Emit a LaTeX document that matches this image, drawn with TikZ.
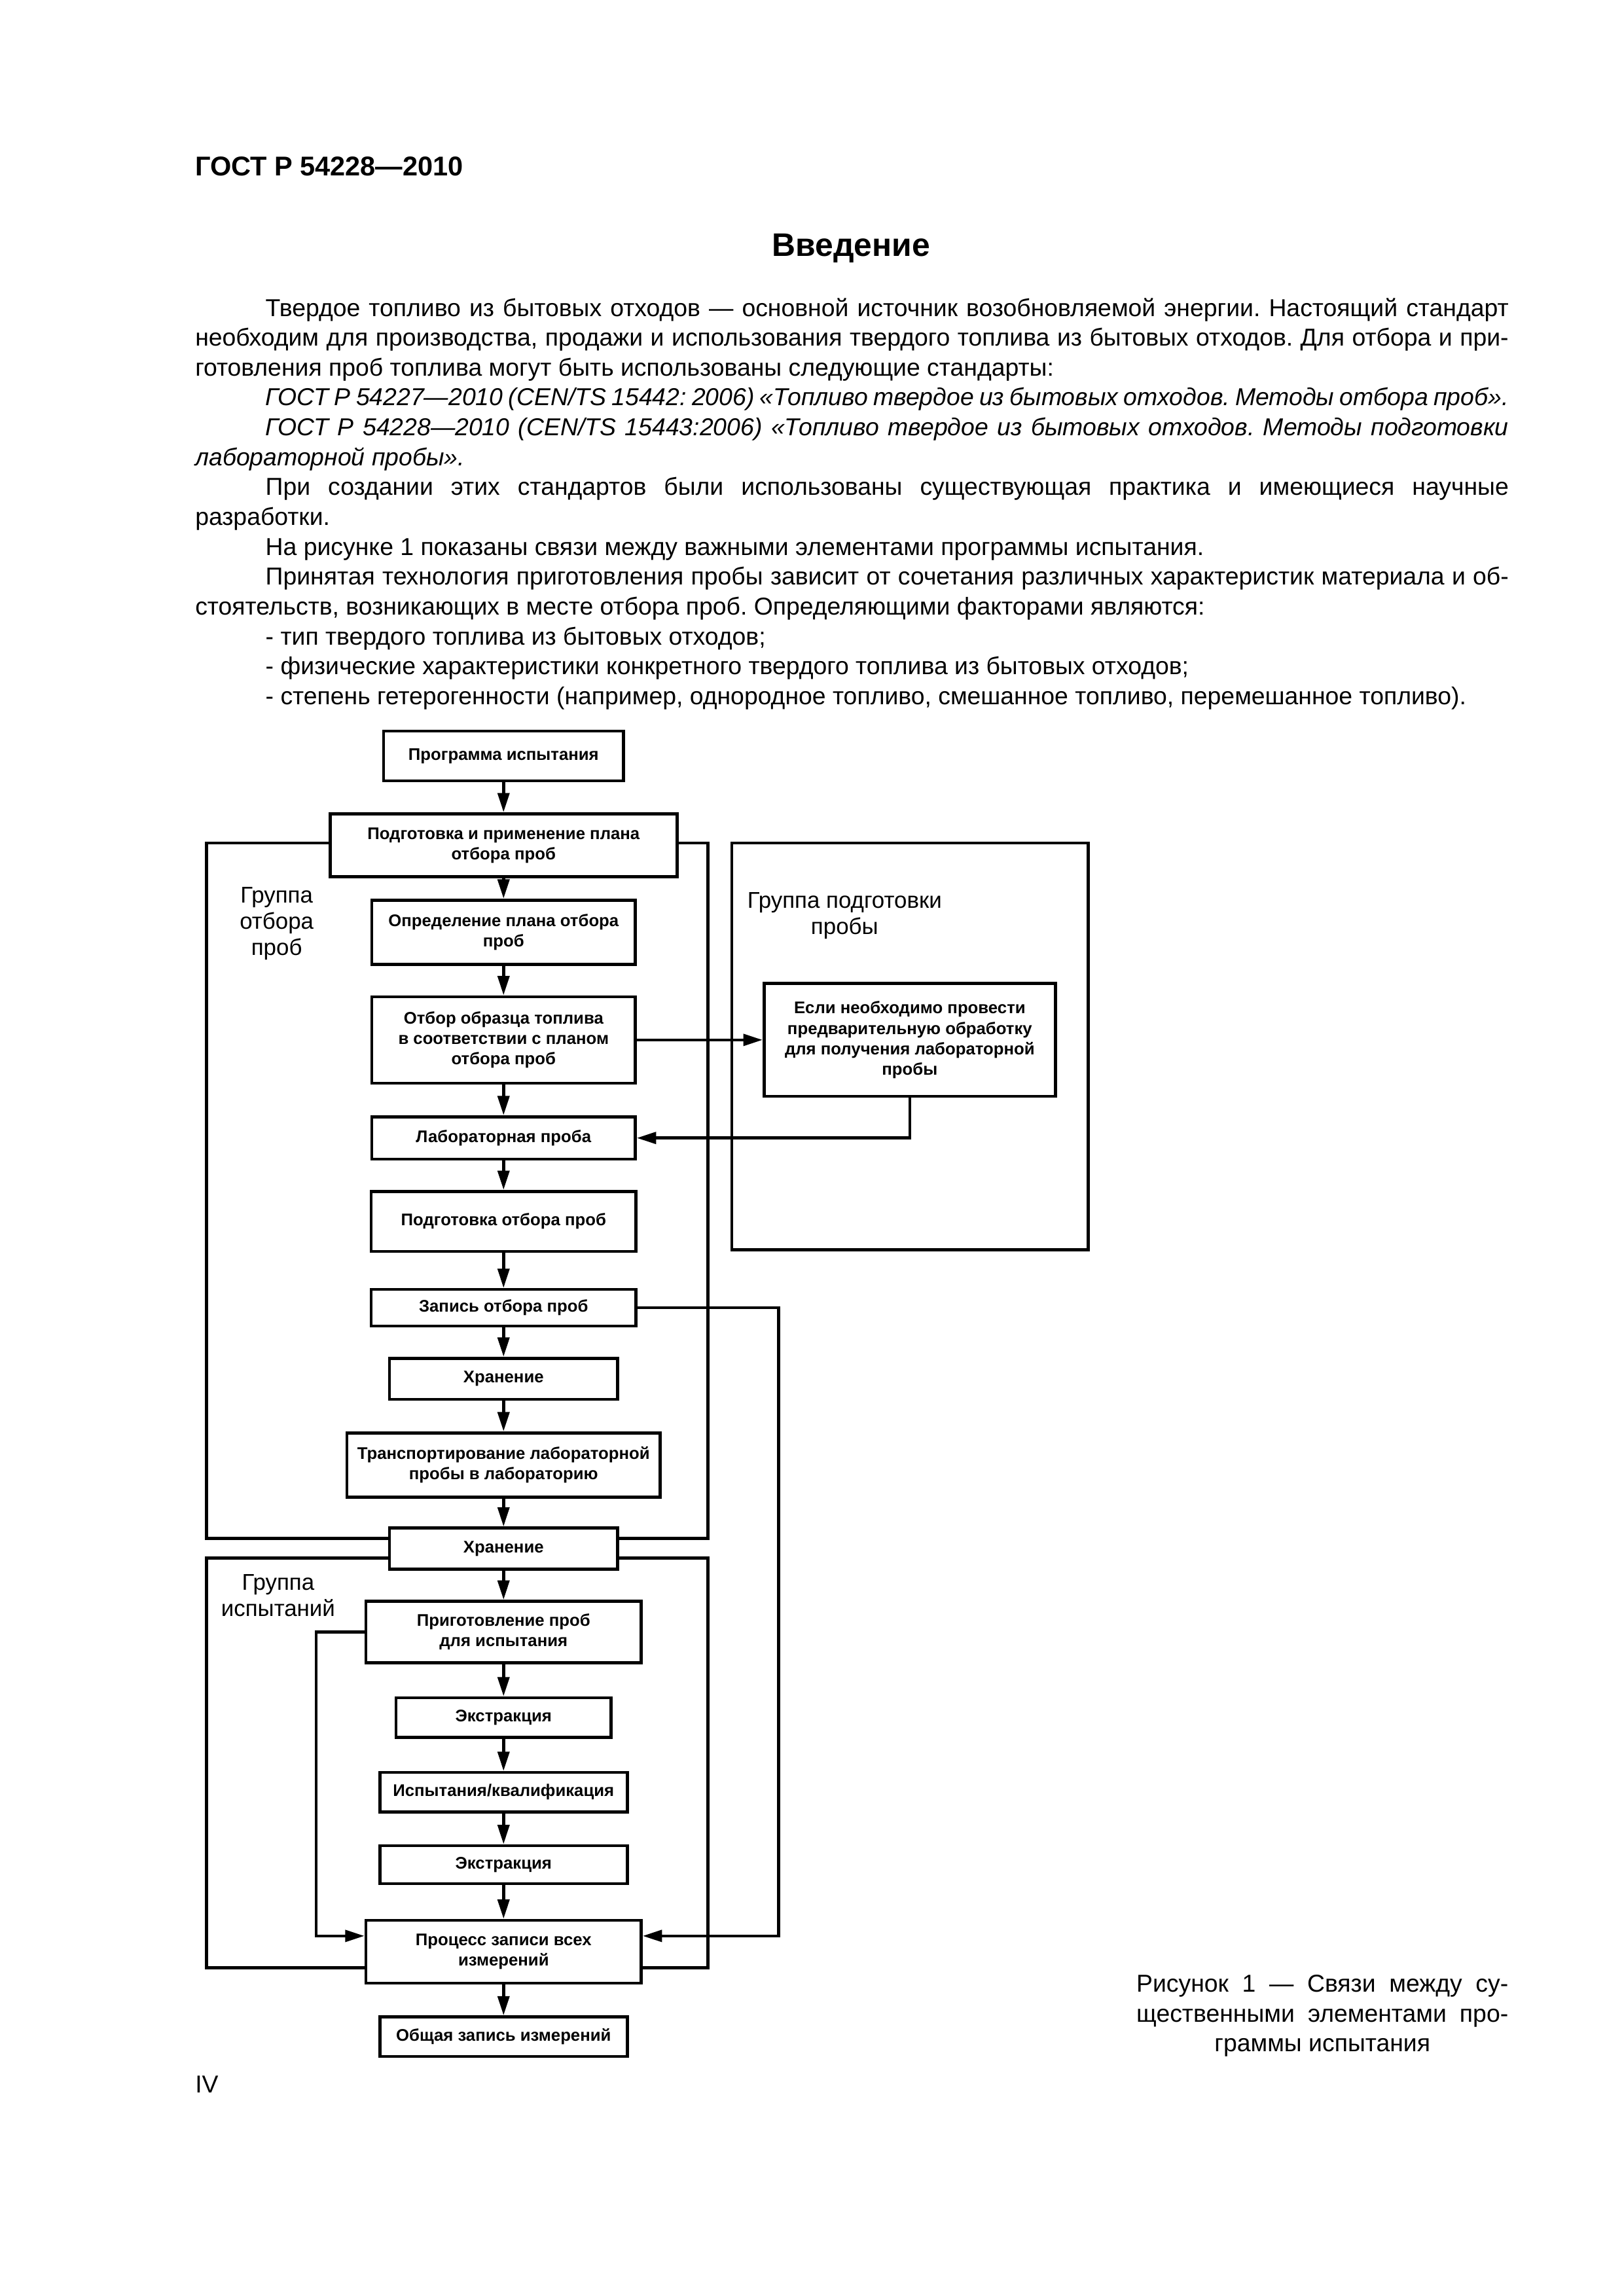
\documentclass[tikz,border=0pt]{standalone}
\usepackage{fontspec}
\setmainfont{Liberation Sans}
\usetikzlibrary{arrows.meta}
\newlength{\dpx}
\setlength{\dpx}{0.18936mm}
\newcommand{\boxfont}{\fontsize{6.2}{7.5}\selectfont\bfseries}
\newcommand{\grpfont}{\fontsize{8.4}{9.6}\selectfont}
\newcommand{\txtfont}{\fontsize{9}{11}\selectfont}
\tikzset{
  blk/.style={draw, line width=1.1pt, fill=white, inner sep=0pt, align=center, font=\boxfont},
  bw/.style={minimum width=#1*\dpx},
  bh/.style={minimum height=#1*\dpx},
  grp/.style={line width=1.1pt},
  arr/.style={line width=1.1pt, -{Triangle[length=2.5mm,width=1.5mm]}},
}
\begin{document}
\begin{tikzpicture}[x=0.18936mm, y=-0.18936mm]
\fill[white] (0,0) rectangle (1109,1568.7);
% page text
\node[anchor=base west, inner sep=0, font=\fontsize{10}{12}\selectfont\bfseries] (gost) at (133,120) {ГОСТ Р 54228—2010};
\node[anchor=base, inner sep=0, font=\fontsize{12}{14}\selectfont\bfseries] (intro) at (581.5,175) {Введение};
\node[anchor=base west, inner sep=0, text width=169.9mm, align=justify, font=\txtfont] (body) at (133,216) {\txtfont
\frenchspacing\hyphenpenalty=10000 \setlength{\parindent}{9.1mm}\indent
Твердое топливо из бытовых отходов — основной источник возобновляемой энергии. Настоящий стандарт\linebreak
необходим для производства, продажи и использования твердого топлива из бытовых отходов. Для отбора и при-\linebreak
готовления проб топлива могут быть использованы следующие стандарты:\par
{\itshape\parfillskip=0pt ГОСТ Р 54227—2010 (CEN/TS 15442: 2006) «Топливо твердое из бытовых отходов. Методы отбора проб».\par}
{\itshape ГОСТ Р 54228—2010 (CEN/TS 15443:2006) «Топливо твердое из бытовых отходов. Методы подготовки\linebreak
лабораторной пробы».\par}
При создании этих стандартов были использованы существующая практика и имеющиеся научные\linebreak
разработки.\par
На рисунке 1 показаны связи между важными элементами программы испытания.\par
Принятая технология приготовления пробы зависит от сочетания различных характеристик материала и об-\linebreak
стоятельств, возникающих в месте отбора проб. Определяющими факторами являются:\par
- тип твердого топлива из бытовых отходов;\par
- физические характеристики конкретного твердого топлива из бытовых отходов;\par
- степень гетерогенности (например, однородное топливо, смешанное топливо, перемешанное топливо).\par};
% group frames
\draw[grp] (141,576) rectangle (483.5,1051);
\draw[grp] (500,576) rectangle (743.5,854);
\draw[grp] (141,1064.5) rectangle (483.5,1344.5);
\node[align=center, font=\grpfont] (gsamp) at (189,631) {Группа\\отбора\\проб};
\node[align=center, font=\grpfont] (gprep) at (577,625.5) {Группа подготовки\\пробы};
\node[align=center, font=\grpfont] (gtest) at (190,1090) {Группа\\испытаний};
% steps
\node[blk, bw=164, bh=34] (b1) at (344,516.5) {Программа испытания};
\node[blk, bw=237, bh=43] (b2) at (344,577.5) {Подготовка и применение плана\\отбора проб};
\node[blk, bw=180, bh=44] (b3) at (344,637) {Определение плана отбора\\проб};
\node[blk, bw=180, bh=59] (b4) at (344,710.5) {Отбор образца топлива\\в соответствии с планом\\отбора проб};
\node[blk, bw=180, bh=29] (b5) at (344,777.5) {Лабораторная проба};
\node[blk, bw=181, bh=41] (b6) at (344,834.5) {Подготовка отбора проб};
\node[blk, bw=181, bh=25] (b7) at (344,893.5) {Запись отбора проб};
\node[blk, bw=156, bh=28] (b8) at (344,942) {Хранение};
\node[blk, bw=214, bh=44] (b9) at (344,1001) {Транспортирование лабораторной\\пробы в лабораторию};
\node[blk, bw=156, bh=28] (b10) at (344,1058) {Хранение};
\node[blk, bw=188, bh=42] (b11) at (344,1115) {Приготовление проб\\для испытания};
\node[blk, bw=147, bh=27] (b12) at (344,1173.5) {Экстракция};
\node[blk, bw=169, bh=27] (b13) at (344,1224.5) {Испытания/квалификация};
\node[blk, bw=169, bh=26] (b14) at (344,1274) {Экстракция};
\node[blk, bw=188, bh=43] (b15) at (344,1333.5) {Процесс записи всех\\измерений};
\node[blk, bw=169, bh=27] (b16) at (344,1391.5) {Общая запись измерений};
\node[blk, bw=199, bh=77] (prep) at (621.5,710.5) {Если необходимо провести\\предварительную обработку\\для получения лабораторной\\пробы};
% connectors
\foreach \a/\b in {b1/b2,b2/b3,b3/b4,b4/b5,b5/b6,b6/b7,b7/b8,b8/b9,b9/b10,b10/b11,b11/b12,b12/b13,b13/b14,b14/b15,b15/b16}
  \draw[arr] (\a) -- (\b);
\draw[arr] (b4) -- (prep);
\draw[arr] (prep.south) |- (b5.east);
\coordinate (rbend) at (532,893.5);
\draw[arr] (b7.east) -- (rbend) |- ([yshift=2.05mm]b15.east);
\coordinate (lbend) at (216,1115);
\draw[arr] (b11.west) -- (lbend) |- ([yshift=2.05mm]b15.west);
% caption
\node[anchor=base west, inner sep=0, text width=48.1mm, align=justify, font=\txtfont] (cap) at (776,1361) {\txtfont
\frenchspacing Рисунок 1 — Связи между су-\linebreak
щественными элементами про-\linebreak
\hspace*{\fill}граммы испытания\hspace*{\fill}\parfillskip=0pt\par};
\node[anchor=base west, inner sep=0, font=\txtfont] (page) at (133,1430) {IV};
\end{tikzpicture}
\end{document}
